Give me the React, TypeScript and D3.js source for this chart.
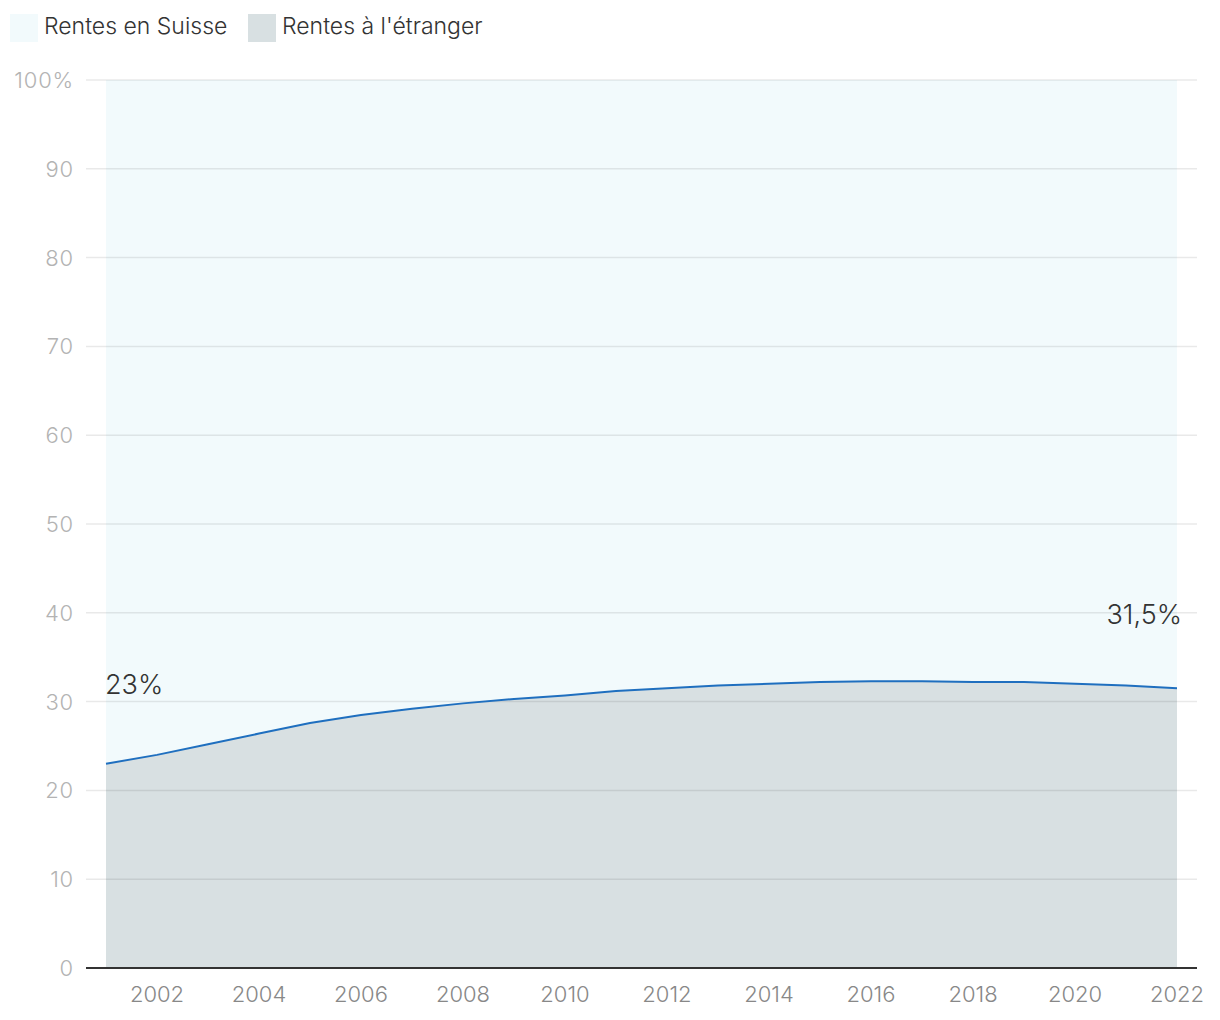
import React from "react";
import * as d3 from "d3";

const years = [2001,2002,2003,2004,2005,2006,2007,2008,2009,2010,2011,2012,2013,2014,2015,2016,2017,2018,2019,2020,2021,2022];
const abroad = [23.0,24.0,25.2,26.4,27.6,28.5,29.2,29.8,30.3,30.7,31.2,31.5,31.8,32.0,32.2,32.3,32.3,32.2,32.2,32.0,31.8,31.5];
const yTicks = [0,10,20,30,40,50,60,70,80,90,100];
const xTicks = [2002,2004,2006,2008,2010,2012,2014,2016,2018,2020,2022];
const legendItems = ["Rentes en Suisse", "Rentes à l'étranger"];
const colors = { swiss: "#f2fafc", abroad: "#d8e0e2", line: "#1f6fbf" };

export default function App() {
  const W = 1220, H = 1020;
  const x = d3.scaleLinear().domain([2001, 2022]).range([106, 1177]);
  const y = d3.scaleLinear().domain([0, 100]).range([968, 80]);
  const data = years.map((yr, i) => ({ yr, v: abroad[i] }));
  const area = d3.area<any>().x(d => x(d.yr)).y0(y(0)).y1(d => y(d.v));
  const areaTop = d3.area<any>().x(d => x(d.yr)).y0(y(100)).y1(d => y(d.v));
  const line = d3.line<any>().x(d => x(d.yr)).y(d => y(d.v));
  const font = "Inter, Roboto, sans-serif";
  return (
    <svg width={W} height={H} style={{ position: "absolute", left: 0, top: 0 }} fontFamily={font} fontWeight={300}>
      {/* legend */}
      <rect x={10} y={14} width={28} height={28} fill={colors.swiss} />
      <text x={44} y={34} fontSize={23} fill="#333">{legendItems[0]}</text>
      <rect x={248} y={14} width={28} height={28} fill={colors.abroad} />
      <text x={282} y={34} fontSize={23} fill="#333">{legendItems[1]}</text>

      <path d={areaTop(data) || ""} fill={colors.swiss} />
      <path d={area(data) || ""} fill={colors.abroad} />
      {yTicks.filter(t => t > 0).map(t => (
        <line key={t} x1={86} x2={1197} y1={y(t)} y2={y(t)} stroke="#000" strokeOpacity={0.085} strokeWidth={1.5} />
      ))}
      {yTicks.map(t => (
        <text key={t} x={74} y={y(t) + 8} textAnchor="end" fontSize={22} letterSpacing={0.8} fill="#b3b3b3">{t === 100 ? "100%" : t}</text>
      ))}
      <path d={line(data) || ""} fill="none" stroke={colors.line} strokeWidth={2} />
      <line x1={86} x2={1197} y1={y(0)} y2={y(0)} stroke="#333" strokeWidth={2} />
      {xTicks.map(t => (
        <text key={t} x={x(t)} y={1002} textAnchor="middle" fontSize={22} fill="#888">{t}</text>
      ))}
      <text x={x(years[0]) - 1} y={694} fontSize={27} fill="#333">{`${abroad[0]}%`.replace(".0", "")}</text>
      <text x={x(2022) + 5} y={624} textAnchor="end" fontSize={27} fill="#333">{`${abroad[abroad.length - 1]}%`.replace(".", ",")}</text>
    </svg>
  );
}
